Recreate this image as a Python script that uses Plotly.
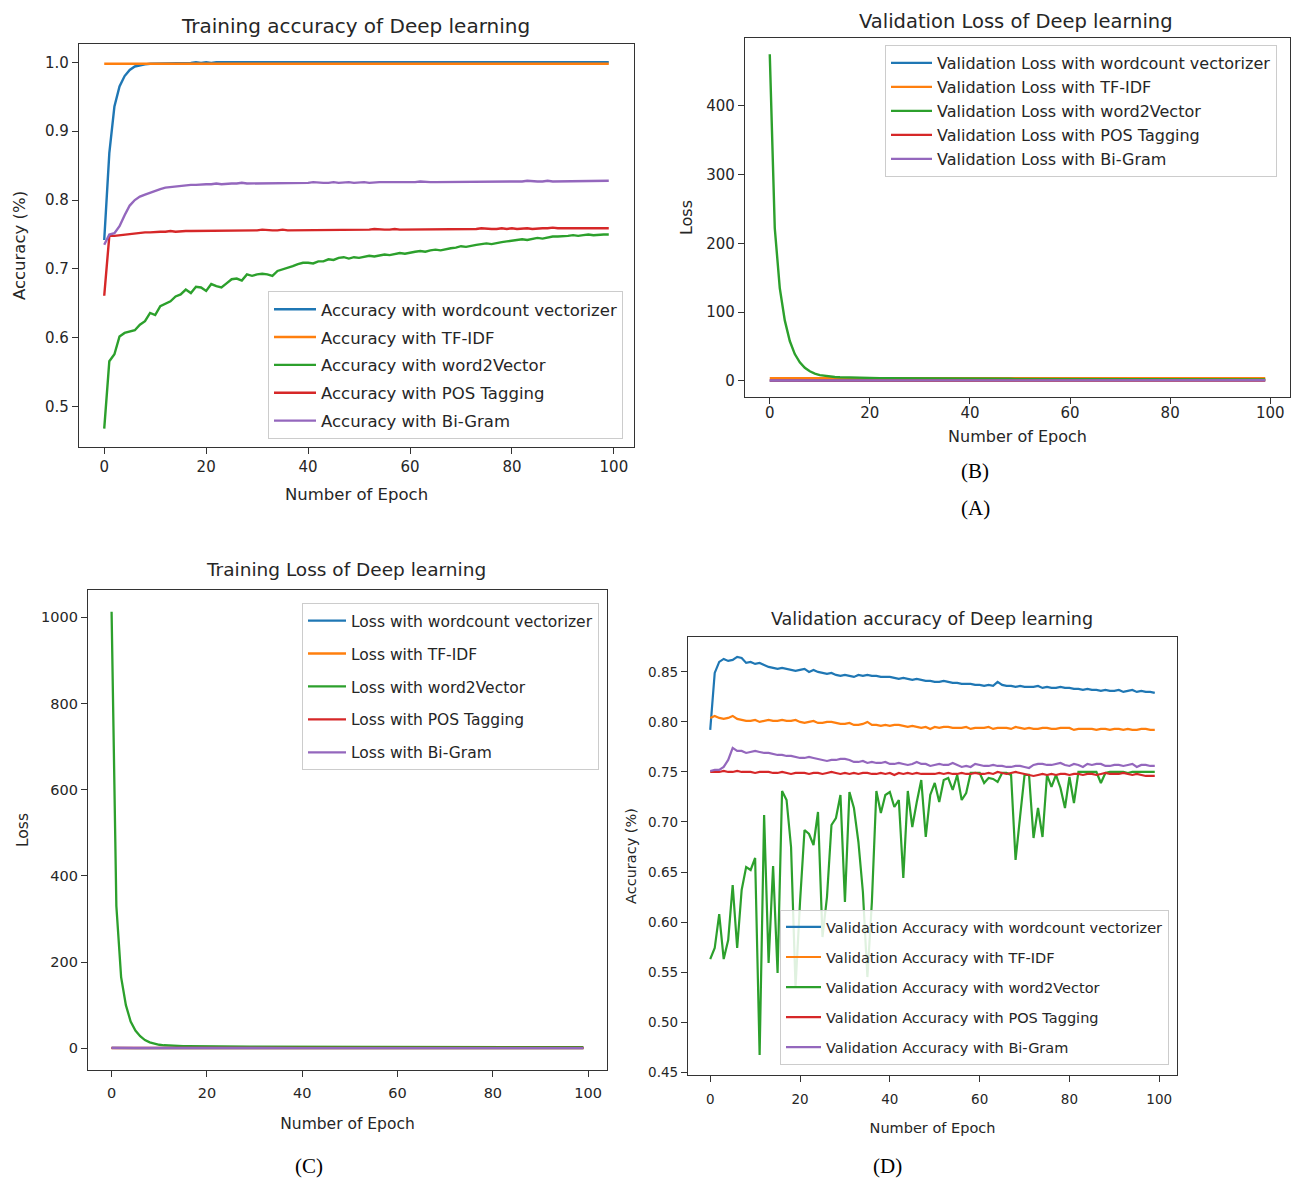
import plotly.graph_objects as go

# The page body has an 8px margin, so the figure is placed at (8, 8) in the window.
OFF = 8
W, H = 1300 - OFF, 1180 - OFF
epochs = list(range(100))

# ---------------- (A) Training accuracy ----------------
A_wc = [0.742,0.868,0.936,0.965,0.980,0.989,0.994,0.996,0.997,0.998,
        0.998,0.999,0.999,0.999,0.999,0.999,0.999,0.999,1.000,0.999,
        1.000,0.999,1.000,1.000,0.999,1.000,1.000,1.000,0.999,1.000,
        1.000,1.000,1.000,1.000,1.000,0.999,1.000,1.000,1.000,1.000,
        1.000,1.000,1.000,1.000,1.000,1.000,1.000,1.000,1.000,1.000,
        1.000,1.000,1.000,1.000,1.000,1.000,1.000,1.000,1.000,1.000,
        1.000,1.000,1.000,1.000,1.000,1.000,1.000,1.000,1.000,1.000,
        1.000,1.000,1.000,1.000,1.000,1.000,1.000,1.000,1.000,1.000,
        1.000,1.000,1.000,1.000,1.000,1.000,1.000,1.000,1.000,1.000,
        1.000,1.000,1.000,1.000,1.000,1.000,1.000,1.000,1.000,1.000]
A_tf = [0.998,0.998,0.998,0.998,0.998,0.998,0.998,0.998,0.998,0.998,
        0.998,0.998,0.999,0.998,0.998,0.998,0.998,0.998,0.998,0.998,
        0.998,0.998,0.998,0.998,0.998,0.998,0.998,0.998,0.998,0.998,
        0.998,0.998,0.998,0.998,0.998,0.998,0.998,0.998,0.998,0.998,
        0.998,0.998,0.998,0.998,0.998,0.998,0.998,0.998,0.998,0.998,
        0.998,0.998,0.998,0.998,0.998,0.998,0.998,0.998,0.998,0.998,
        0.998,0.998,0.998,0.998,0.998,0.998,0.998,0.998,0.998,0.998,
        0.998,0.998,0.998,0.998,0.998,0.998,0.998,0.998,0.998,0.998,
        0.998,0.998,0.998,0.998,0.998,0.998,0.998,0.998,0.998,0.998,
        0.998,0.998,0.998,0.998,0.998,0.998,0.998,0.998,0.998,0.998]
A_w2v = [0.468,0.566,0.576,0.602,0.607,0.609,0.611,0.619,0.624,0.636,
         0.633,0.646,0.650,0.653,0.660,0.663,0.670,0.665,0.674,0.673,
         0.668,0.678,0.675,0.673,0.679,0.685,0.686,0.683,0.692,0.690,
         0.692,0.693,0.692,0.690,0.697,0.699,0.701,0.704,0.707,0.709,
         0.709,0.708,0.711,0.711,0.714,0.713,0.716,0.717,0.715,0.717,
         0.716,0.717,0.719,0.718,0.720,0.721,0.720,0.722,0.723,0.722,
         0.724,0.725,0.726,0.725,0.727,0.728,0.727,0.729,0.730,0.731,
         0.733,0.732,0.734,0.735,0.736,0.737,0.736,0.738,0.739,0.740,
         0.741,0.742,0.743,0.742,0.744,0.745,0.744,0.746,0.747,0.747,
         0.747,0.748,0.749,0.748,0.749,0.750,0.749,0.750,0.750,0.750]
A_pos = [0.661,0.748,0.748,0.749,0.750,0.751,0.752,0.752,0.753,0.753,
         0.754,0.754,0.754,0.755,0.754,0.755,0.755,0.755,0.755,0.756,
         0.755,0.755,0.756,0.755,0.756,0.756,0.755,0.756,0.756,0.756,
         0.756,0.757,0.756,0.756,0.756,0.757,0.756,0.756,0.757,0.756,
         0.756,0.757,0.757,0.756,0.757,0.757,0.757,0.756,0.757,0.757,
         0.757,0.757,0.757,0.758,0.757,0.757,0.757,0.758,0.757,0.757,
         0.758,0.757,0.758,0.758,0.757,0.758,0.758,0.758,0.758,0.757,
         0.758,0.758,0.758,0.758,0.759,0.758,0.758,0.758,0.759,0.758,
         0.759,0.758,0.759,0.759,0.758,0.759,0.759,0.759,0.760,0.759,
         0.759,0.759,0.759,0.760,0.759,0.759,0.759,0.760,0.759,0.759]
A_bi = [0.735,0.750,0.752,0.762,0.778,0.792,0.800,0.805,0.808,0.811,
        0.814,0.816,0.818,0.819,0.820,0.821,0.822,0.822,0.822,0.823,
        0.823,0.823,0.824,0.823,0.824,0.824,0.824,0.825,0.824,0.824,
        0.825,0.825,0.824,0.825,0.825,0.825,0.825,0.824,0.825,0.825,
        0.825,0.826,0.825,0.825,0.825,0.826,0.825,0.826,0.826,0.825,
        0.826,0.826,0.825,0.826,0.826,0.826,0.826,0.825,0.826,0.826,
        0.826,0.826,0.827,0.826,0.826,0.826,0.826,0.827,0.826,0.826,
        0.826,0.826,0.827,0.827,0.826,0.827,0.827,0.826,0.827,0.827,
        0.827,0.827,0.827,0.828,0.827,0.827,0.827,0.828,0.827,0.827,
        0.828,0.827,0.827,0.828,0.828,0.827,0.828,0.828,0.828,0.828]

# ---------------- (B) Validation loss ----------------
B_wc = [0.42,0.35,0.33,0.34,0.36,0.38,0.41,0.44,0.47,0.50,
        0.53,0.56,0.58,0.61,0.63,0.65,0.67,0.69,0.71,0.72,
        0.74,0.75,0.77,0.78,0.79,0.81,0.82,0.83,0.84,0.85,
        0.86,0.87,0.88,0.89,0.90,0.91,0.92,0.92,0.93,0.94,
        0.95,0.95,0.96,0.97,0.97,0.98,0.99,0.99,1.00,1.01,
        1.01,1.02,1.02,1.03,1.04,1.04,1.05,1.05,1.06,1.06,
        1.07,1.07,1.08,1.08,1.09,1.09,1.10,1.10,1.11,1.11,
        1.12,1.12,1.13,1.13,1.13,1.14,1.14,1.15,1.15,1.16,
        1.16,1.16,1.17,1.17,1.18,1.18,1.18,1.19,1.19,1.20,
        1.20,1.20,1.21,1.21,1.21,1.22,1.22,1.22,1.23,1.23]
B_tf = [3.9,3.8,3.8,3.7,3.8,3.8,3.7,3.8,3.8,3.7,
        3.7,3.8,3.8,3.7,3.7,3.8,3.7,3.7,3.8,3.8,
        3.8,3.7,3.8,3.8,3.7,3.8,3.8,3.7,3.8,3.8,
        3.8,3.8,3.7,3.8,3.8,3.8,3.7,3.8,3.8,3.8,
        3.8,3.9,3.8,3.8,3.8,3.8,3.9,3.8,3.8,3.8,
        3.9,3.8,3.8,3.9,3.8,3.8,3.9,3.8,3.9,3.8,
        3.9,3.9,3.8,3.9,3.9,3.8,3.9,3.9,3.9,3.8,
        3.9,3.9,3.9,3.9,3.8,3.9,3.9,3.9,3.9,3.9,
        3.9,3.9,3.9,4.0,3.9,3.9,3.9,4.0,3.9,3.9,
        4.0,3.9,3.9,4.0,4.0,3.9,4.0,4.0,4.0,4.0]
B_w2v = [475,222,135,88,58,39,27,19,14,10.5,
         8.5,7.2,6.3,5.7,5.3,5.0,4.8,4.6,4.4,4.3,
         4.2,4.1,4.0,3.9,3.9,3.8,3.8,3.7,4.1,3.9,
         3.6,3.6,3.5,3.5,3.6,4.0,3.7,3.4,3.4,3.3,
         3.3,3.3,3.2,3.2,3.2,3.1,3.1,3.2,3.1,3.0,
         3.0,3.0,2.9,2.9,2.9,2.9,2.8,2.8,2.8,2.8,
         2.8,2.7,2.7,2.7,2.7,2.7,2.6,2.6,2.6,2.6,
         2.6,2.6,2.5,2.5,2.5,2.5,2.5,2.5,2.4,2.4,
         2.4,2.4,2.4,2.4,2.4,2.3,2.3,2.3,2.3,2.3,
         2.3,2.3,2.2,2.2,2.2,2.2,2.2,2.2,2.2,2.1]
B_pos = [0.57,0.56,0.56,0.56,0.56,0.56,0.56,0.56,0.56,0.56,
         0.56,0.56,0.56,0.56,0.56,0.56,0.56,0.56,0.56,0.56,
         0.56,0.56,0.56,0.56,0.56,0.56,0.56,0.56,0.56,0.56,
         0.56,0.56,0.56,0.56,0.56,0.56,0.56,0.56,0.56,0.56,
         0.56,0.56,0.56,0.56,0.56,0.56,0.56,0.56,0.56,0.56,
         0.56,0.56,0.56,0.56,0.56,0.56,0.56,0.56,0.56,0.56,
         0.56,0.56,0.56,0.56,0.56,0.56,0.56,0.56,0.56,0.56,
         0.56,0.56,0.56,0.56,0.56,0.56,0.56,0.56,0.56,0.56,
         0.56,0.56,0.56,0.56,0.56,0.56,0.56,0.56,0.56,0.56,
         0.56,0.56,0.56,0.56,0.56,0.56,0.56,0.56,0.56,0.56]
B_bi = [0.52,0.50,0.49,0.50,0.51,0.52,0.53,0.54,0.55,0.56,
        0.57,0.58,0.59,0.60,0.61,0.62,0.63,0.63,0.64,0.65,
        0.66,0.66,0.67,0.68,0.68,0.69,0.70,0.70,0.71,0.71,
        0.72,0.72,0.73,0.73,0.74,0.74,0.75,0.75,0.76,0.76,
        0.76,0.77,0.77,0.78,0.78,0.78,0.79,0.79,0.79,0.80,
        0.80,0.80,0.81,0.81,0.81,0.82,0.82,0.82,0.82,0.83,
        0.83,0.83,0.83,0.84,0.84,0.84,0.84,0.85,0.85,0.85,
        0.85,0.85,0.86,0.86,0.86,0.86,0.86,0.87,0.87,0.87,
        0.87,0.87,0.88,0.88,0.88,0.88,0.88,0.88,0.89,0.89,
        0.89,0.89,0.89,0.89,0.90,0.90,0.90,0.90,0.90,0.90]

# ---------------- (C) Training loss ----------------
C_wc = [0.62,0.21,0.08,0.04,0.02,0.01,0.01,0.01,0.01,0.01,
        0.01,0.01,0.01,0.01,0.01,0.01,0.01,0.01,0.01,0.01,
        0.01,0.01,0.01,0.01,0.01,0.01,0.01,0.01,0.01,0.01,
        0.01,0.01,0.01,0.01,0.01,0.01,0.01,0.01,0.01,0.01,
        0.01,0.01,0.01,0.01,0.01,0.01,0.01,0.01,0.01,0.01,
        0.01,0.01,0.01,0.01,0.01,0.01,0.01,0.01,0.01,0.01,
        0.01,0.01,0.01,0.01,0.01,0.01,0.01,0.01,0.01,0.01,
        0.01,0.01,0.01,0.01,0.01,0.01,0.01,0.01,0.01,0.01,
        0.01,0.01,0.01,0.01,0.01,0.01,0.01,0.01,0.01,0.01,
        0.01,0.01,0.01,0.01,0.01,0.01,0.01,0.01,0.01,0.01]
C_tf = [0.05,0.01,0.01,0.01,0.01,0.01,0.01,0.01,0.01,0.01,
        0.01,0.01,0.01,0.01,0.01,0.01,0.01,0.01,0.01,0.01,
        0.01,0.01,0.01,0.01,0.01,0.01,0.01,0.01,0.01,0.01,
        0.01,0.01,0.01,0.01,0.01,0.01,0.01,0.01,0.01,0.01,
        0.01,0.01,0.01,0.01,0.01,0.01,0.01,0.01,0.01,0.01,
        0.01,0.01,0.01,0.01,0.01,0.01,0.01,0.01,0.01,0.01,
        0.01,0.01,0.01,0.01,0.01,0.01,0.01,0.01,0.01,0.01,
        0.01,0.01,0.01,0.01,0.01,0.01,0.01,0.01,0.01,0.01,
        0.01,0.01,0.01,0.01,0.01,0.01,0.01,0.01,0.01,0.01,
        0.01,0.01,0.01,0.01,0.01,0.01,0.01,0.01,0.01,0.01]
C_w2v = [1013,330,165,100,62,41,28,19,13.5,10,
         8.0,6.8,6.0,5.4,5.0,4.7,4.5,4.3,4.1,4.0,
         3.9,3.8,3.7,3.7,3.6,3.6,3.5,3.5,3.4,3.4,
         3.4,3.3,3.3,3.3,3.2,3.2,3.2,3.2,3.1,3.1,
         3.1,3.1,3.0,3.0,3.0,3.0,3.0,2.9,2.9,2.9,
         2.9,2.9,2.9,2.8,2.8,2.8,2.8,2.8,2.8,2.8,
         2.7,2.7,2.7,2.7,2.7,2.7,2.7,2.7,2.6,2.6,
         2.6,2.6,2.6,2.6,2.6,2.6,2.6,2.6,2.5,2.5,
         2.5,2.5,2.5,2.5,2.5,2.5,2.5,2.5,2.5,2.4,
         2.4,2.4,2.4,2.4,2.4,2.4,2.4,2.4,2.4,2.4]
C_pos = [0.60,0.56,0.56,0.56,0.56,0.56,0.56,0.56,0.56,0.56,
         0.56,0.56,0.56,0.56,0.56,0.56,0.56,0.56,0.56,0.56,
         0.56,0.56,0.56,0.56,0.56,0.56,0.56,0.56,0.56,0.56,
         0.56,0.56,0.56,0.56,0.56,0.56,0.56,0.56,0.56,0.56,
         0.56,0.56,0.56,0.56,0.56,0.56,0.56,0.56,0.56,0.56,
         0.56,0.56,0.56,0.56,0.56,0.56,0.56,0.56,0.56,0.56,
         0.56,0.56,0.56,0.56,0.56,0.56,0.56,0.56,0.56,0.56,
         0.56,0.56,0.56,0.56,0.56,0.56,0.56,0.56,0.56,0.56,
         0.56,0.56,0.56,0.56,0.56,0.56,0.56,0.56,0.56,0.56,
         0.56,0.56,0.56,0.56,0.56,0.56,0.56,0.56,0.56,0.56]
C_bi = [0.52,0.47,0.44,0.42,0.41,0.41,0.40,0.40,0.40,0.40,
        0.40,0.40,0.40,0.40,0.40,0.40,0.40,0.40,0.40,0.40,
        0.40,0.40,0.40,0.40,0.40,0.40,0.40,0.40,0.40,0.40,
        0.40,0.40,0.40,0.40,0.40,0.40,0.40,0.40,0.40,0.40,
        0.40,0.40,0.40,0.40,0.40,0.40,0.40,0.40,0.40,0.40,
        0.40,0.40,0.40,0.40,0.40,0.40,0.40,0.40,0.40,0.40,
        0.40,0.40,0.40,0.40,0.40,0.40,0.40,0.40,0.40,0.40,
        0.40,0.40,0.40,0.40,0.40,0.40,0.40,0.40,0.40,0.40,
        0.40,0.40,0.40,0.40,0.40,0.40,0.40,0.40,0.40,0.40,
        0.40,0.40,0.40,0.40,0.40,0.40,0.40,0.40,0.40,0.40]

# ---------------- (D) Validation accuracy ----------------
D_wc = [0.792,0.849,0.860,0.863,0.861,0.862,0.865,0.864,0.859,0.860,
        0.858,0.859,0.857,0.855,0.854,0.853,0.854,0.853,0.852,0.851,
        0.852,0.853,0.850,0.852,0.850,0.849,0.848,0.849,0.847,0.846,
        0.847,0.846,0.845,0.847,0.846,0.847,0.846,0.846,0.845,0.845,
        0.845,0.844,0.843,0.844,0.843,0.842,0.843,0.842,0.841,0.841,
        0.840,0.840,0.841,0.840,0.839,0.839,0.838,0.838,0.838,0.837,
        0.837,0.836,0.837,0.836,0.840,0.837,0.836,0.836,0.835,0.836,
        0.835,0.835,0.835,0.836,0.834,0.835,0.834,0.834,0.835,0.834,
        0.834,0.833,0.833,0.832,0.833,0.832,0.832,0.831,0.832,0.831,
        0.831,0.832,0.830,0.831,0.832,0.830,0.831,0.830,0.830,0.829]
D_tf = [0.804,0.806,0.804,0.803,0.804,0.806,0.803,0.802,0.801,0.801,
        0.802,0.800,0.801,0.802,0.801,0.801,0.802,0.801,0.801,0.802,
        0.800,0.799,0.800,0.801,0.799,0.799,0.800,0.800,0.799,0.798,
        0.798,0.799,0.797,0.797,0.798,0.800,0.797,0.797,0.796,0.797,
        0.796,0.797,0.797,0.796,0.795,0.796,0.795,0.794,0.795,0.793,
        0.795,0.794,0.795,0.795,0.794,0.794,0.794,0.795,0.793,0.794,
        0.794,0.794,0.795,0.793,0.794,0.794,0.794,0.793,0.795,0.794,
        0.793,0.794,0.793,0.793,0.794,0.794,0.793,0.793,0.794,0.794,
        0.794,0.792,0.793,0.793,0.793,0.793,0.792,0.793,0.793,0.792,
        0.793,0.793,0.792,0.793,0.792,0.792,0.793,0.793,0.792,0.792]
D_w2v = [0.563,0.574,0.608,0.563,0.582,0.637,0.574,0.632,0.655,0.652,
         0.664,0.467,0.707,0.559,0.656,0.549,0.731,0.722,0.675,0.535,
         0.620,0.692,0.688,0.677,0.710,0.585,0.625,0.697,0.704,0.727,
         0.620,0.730,0.714,0.680,0.630,0.545,0.620,0.731,0.709,0.727,
         0.730,0.715,0.722,0.644,0.731,0.695,0.720,0.742,0.685,0.727,
         0.739,0.720,0.742,0.744,0.732,0.747,0.722,0.729,0.749,0.749,
         0.749,0.739,0.744,0.743,0.740,0.749,0.749,0.747,0.662,0.705,
         0.747,0.747,0.684,0.714,0.685,0.747,0.735,0.747,0.734,0.714,
         0.745,0.719,0.750,0.750,0.750,0.750,0.750,0.739,0.749,0.750,
         0.750,0.750,0.750,0.749,0.750,0.750,0.750,0.750,0.750,0.750]
D_pos = [0.750,0.750,0.750,0.751,0.750,0.750,0.751,0.750,0.750,0.750,
         0.749,0.750,0.750,0.750,0.749,0.749,0.750,0.749,0.748,0.749,
         0.749,0.749,0.748,0.749,0.749,0.748,0.749,0.750,0.749,0.748,
         0.749,0.748,0.749,0.748,0.749,0.749,0.748,0.748,0.749,0.748,
         0.749,0.747,0.749,0.748,0.749,0.748,0.749,0.748,0.748,0.748,
         0.748,0.749,0.748,0.749,0.748,0.748,0.749,0.748,0.748,0.749,
         0.748,0.748,0.749,0.748,0.750,0.749,0.748,0.749,0.750,0.749,
         0.748,0.747,0.746,0.747,0.748,0.747,0.748,0.747,0.748,0.748,
         0.747,0.748,0.748,0.747,0.748,0.748,0.747,0.748,0.749,0.748,
         0.748,0.748,0.749,0.748,0.747,0.748,0.747,0.746,0.746,0.746]
D_bi = [0.751,0.752,0.752,0.755,0.762,0.774,0.771,0.771,0.769,0.770,
        0.771,0.770,0.769,0.769,0.768,0.767,0.767,0.766,0.766,0.765,
        0.764,0.764,0.765,0.764,0.763,0.762,0.761,0.762,0.762,0.763,
        0.763,0.762,0.760,0.760,0.761,0.759,0.760,0.759,0.759,0.760,
        0.758,0.758,0.759,0.758,0.757,0.758,0.760,0.758,0.758,0.756,
        0.757,0.758,0.757,0.757,0.759,0.757,0.755,0.756,0.755,0.758,
        0.757,0.756,0.756,0.757,0.756,0.756,0.755,0.755,0.756,0.756,
        0.755,0.754,0.757,0.758,0.758,0.757,0.757,0.758,0.759,0.757,
        0.756,0.758,0.757,0.755,0.758,0.757,0.758,0.758,0.756,0.756,
        0.757,0.757,0.756,0.757,0.758,0.755,0.757,0.757,0.756,0.756]

COLORS = ["#1f77b4", "#ff7f0e", "#2ca02c", "#d62728", "#9467bd"]
METHODS = ["wordcount vectorizer", "TF-IDF", "word2Vector", "POS Tagging", "Bi-Gram"]

panels = [
    dict(key="A", series=[A_wc, A_tf, A_w2v, A_pos, A_bi], prefix="Accuracy with ",
         title="Training accuracy of Deep learning", ytitle="Accuracy (%)",
         box=(79, 44, 634, 447), yrange=[0.4414, 1.0266], ytick=[0.5, 0.6, 0.7, 0.8, 0.9, 1.0],
         yfmt=".1f", fs=16.5, tks=15, tfs=20, title_xy=(355, 26), lw=2.4,
         leg=(268, 291), gap=3.4, iw=42, ystand=15, xstand=13, xlab=0),
    dict(key="B", series=[B_wc, B_tf, B_w2v, B_pos, B_bi], prefix="Validation Loss with ",
         title="Validation Loss of Deep learning", ytitle="Loss",
         box=(745, 38, 1290, 397), yrange=[-23.4, 498.7], ytick=[0, 100, 200, 300, 400],
         yfmt="d", fs=16, tks=15, tfs=19.5, title_xy=(1016, 22), lw=2.4,
         leg=(885, 45), gap=0.2, iw=41, ystand=9, xstand=9, xlab=-4),
    dict(key="C", series=[C_wc, C_tf, C_w2v, C_pos, C_bi], prefix="Loss with ",
         title="Training Loss of Deep learning", ytitle="Loss",
         box=(88, 590, 607, 1070), yrange=[-50.6, 1063.6], ytick=[0, 200, 400, 600, 800, 1000],
         yfmt="d", fs=15.5, tks=14.5, tfs=18.5, title_xy=(346, 569), lw=2.3,
         leg=(302, 603), gap=9.8, iw=38, ystand=8, xstand=18, xlab=3),
    dict(key="D", series=[D_wc, D_tf, D_w2v, D_pos, D_bi], prefix="Validation Accuracy with ",
         title="Validation accuracy of Deep learning", ytitle="Accuracy (%)",
         box=(688, 637, 1177, 1075), yrange=[0.4471, 0.8849],
         ytick=[0.45, 0.50, 0.55, 0.60, 0.65, 0.70, 0.75, 0.80, 0.85],
         yfmt=".2f", fs=14.5, tks=13.5, tfs=17.5, title_xy=(932, 619), lw=2.2,
         leg=(780, 910), gap=8.2, iw=35, ystand=8, xstand=16, xlab=6),
]

FONT = "DejaVu Sans"
TXT = "#262626"


def px(x):
    return (x - OFF) / W


def py(y):
    return 1 - (y - OFF) / H


fig = go.Figure()
layout = dict(width=W, height=H, margin=dict(l=0, r=0, t=0, b=0),
              paper_bgcolor="white", plot_bgcolor="white", showlegend=True,
              font=dict(family=FONT, color=TXT))
annotations = []

for i, p in enumerate(panels):
    n = i + 1
    xa = "x" if n == 1 else f"x{n}"
    ya = "y" if n == 1 else f"y{n}"
    legname = "legend" if n == 1 else f"legend{n}"
    for j, s in enumerate(p["series"]):
        fig.add_trace(go.Scatter(
            x=epochs, y=s, mode="lines", name=p["prefix"] + METHODS[j],
            line=dict(color=COLORS[j], width=p["lw"]),
            xaxis=xa, yaxis=ya, legend=legname, legendgroup=f"{p['key']}{j}",
            hoverinfo="skip"))
    x0, y0, x1, y1 = p["box"]
    axis_common = dict(showline=True, mirror=True, linecolor="#333333", linewidth=1.3,
                       ticks="outside", ticklen=6, tickwidth=1.1, tickcolor="#333333",
                       showgrid=False, zeroline=False, automargin=False,
                       tickfont=dict(family=FONT, size=p["tks"], color=TXT))
    layout["xaxis" if n == 1 else f"xaxis{n}"] = dict(
        axis_common, domain=[px(x0), px(x1)], anchor=ya, range=[-4.95, 103.95],
        tickvals=[0, 20, 40, 60, 80, 100], ticklabelstandoff=p["xlab"],
        title=dict(text="Number of Epoch", standoff=p["xstand"],
                   font=dict(family=FONT, size=p["fs"], color=TXT)))
    layout["yaxis" if n == 1 else f"yaxis{n}"] = dict(
        axis_common, domain=[py(y1), py(y0)], anchor=xa, range=p["yrange"],
        tickvals=p["ytick"], tickformat=p["yfmt"],
        title=dict(text=p["ytitle"], standoff=p["ystand"],
                   font=dict(family=FONT, size=p["fs"], color=TXT)))
    lx, ly = p["leg"]
    layout[legname] = dict(x=px(lx), y=py(ly), xanchor="left", yanchor="top",
                           xref="paper", yref="paper", itemwidth=p["iw"],
                           bgcolor="rgba(255,255,255,0.85)", bordercolor="#cccccc",
                           borderwidth=1, tracegroupgap=p["gap"],
                           font=dict(family=FONT, size=p["fs"], color=TXT))
    tx, ty = p["title_xy"]
    annotations.append(dict(text=p["title"], x=px(tx), y=py(ty), xref="paper", yref="paper",
                            showarrow=False, xanchor="center", yanchor="middle",
                            font=dict(family=FONT, size=p["tfs"], color=TXT)))

CAPTIONS = [("(B)", 975, 471), ("(A)", 975, 508), ("(C)", 309, 1166), ("(D)", 887, 1166)]
for t, cx, cy in CAPTIONS:
    annotations.append(dict(text=t, x=px(cx), y=py(cy), xref="paper", yref="paper",
                            showarrow=False, xanchor="center", yanchor="middle",
                            font=dict(family="Liberation Serif", size=21, color="black")))

layout["annotations"] = annotations
fig.update_layout(**layout)
fig.write_html("out.html")
